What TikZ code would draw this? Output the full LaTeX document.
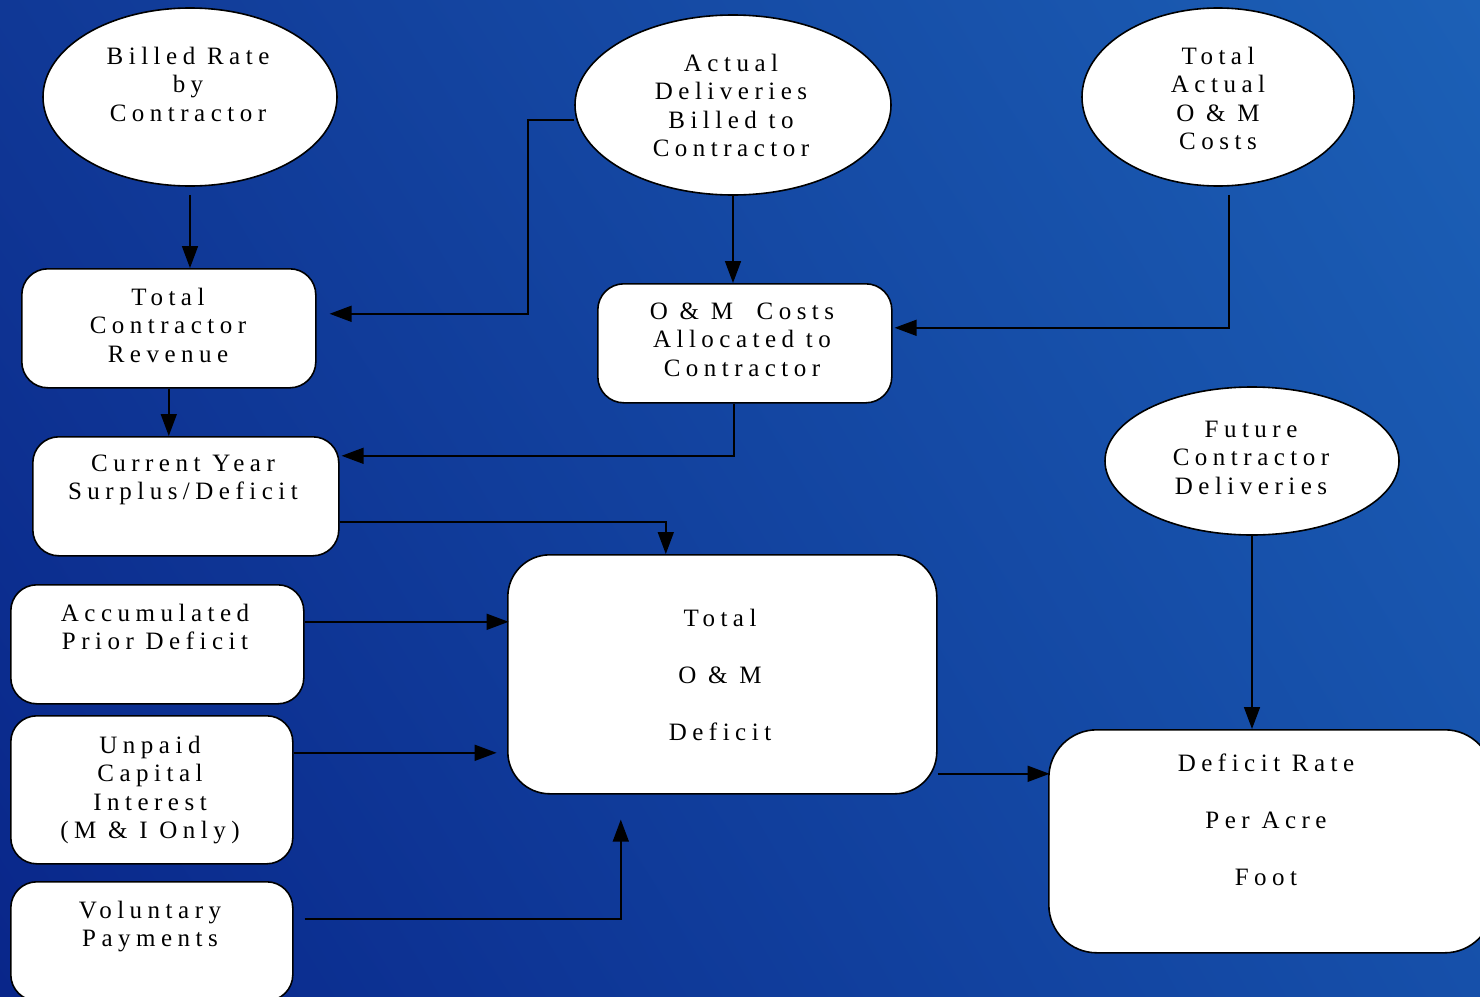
\documentclass[tikz,border=0pt]{standalone}
\usepackage{fontspec}
\setmainfont{Liberation Serif}[LetterSpace=22]
\usetikzlibrary{shapes.geometric,arrows.meta,shadings}

\definecolor{skytl}{RGB}{16,56,150}
\definecolor{skytr}{RGB}{28,96,182}
\definecolor{skybl}{RGB}{9,38,138}
\definecolor{skybr}{RGB}{22,80,170}

\tikzset{
  bubble/.style={ellipse, draw=black, fill=white, line width=1.6pt, inner sep=0pt},
  panel/.style={rectangle, draw=black, fill=white, line width=1.6pt, inner sep=0pt,
    anchor=north west, rounded corners=26pt},
  words/.style={anchor=north, align=center, inner sep=0pt,
    font=\fontsize{25}{28.5}\selectfont},
  flow/.style={line width=1.6pt, -{Triangle[length=22pt,width=16pt]}}
}

\begin{document}
\begin{tikzpicture}[x=1pt, y=-1pt]
\useasboundingbox (0,0) rectangle (1480,996);
\clip (0,0) rectangle (1480,996);
\shade[upper left=skytl, upper right=skytr, lower left=skybl, lower right=skybr]
  (0,0) rectangle (1480,996);

% inputs
\node[bubble, minimum width=294pt, minimum height=178pt] (rate) at (190,97) {};
\node[bubble, minimum width=316pt, minimum height=180pt] (billed) at (733,105) {};
\node[bubble, minimum width=272pt, minimum height=178pt] (costs) at (1218,97) {};
\node[bubble, minimum width=294pt, minimum height=148pt] (future) at (1252,461) {};

% boxes
\node[panel, minimum width=294pt, minimum height=119pt] (rev) at (21,268) {};
\node[panel, minimum width=294pt, minimum height=119pt] (om) at (597,283) {};
\node[panel, minimum width=306pt, minimum height=119pt] (surplus) at (32,436) {};
\node[panel, minimum width=293pt, minimum height=119pt] (prior) at (10,584) {};
\node[panel, minimum width=282pt, minimum height=148pt] (interest) at (10,715) {};
\node[panel, minimum width=282pt, minimum height=119pt] (vol) at (10,881) {};
\node[panel, rounded corners=42pt, minimum width=429pt, minimum height=239pt] (deficit) at (507,554) {};
\node[panel, rounded corners=48pt, minimum width=444pt, minimum height=223pt] (acre) at (1048,729) {};

% texts
\node[words] (rate-t) at (188,46.5) {Billed Rate\\by\\Contractor};
\node[words] (billed-t) at (731,53.5) {Actual\\Deliveries\\Billed to\\Contractor};
\node[words] (costs-t) at (1218,46.5) {Total\\Actual\\O \& M\\Costs};
\node[words] (future-t) at (1251,420.5) {Future\\Contractor\\Deliveries};
\node[words] (rev-t) at (168,287.5) {Total\\Contractor\\Revenue};
\node[words] (om-t) at (742,302.5) {O \& M\ \ Costs\\Allocated to\\Contractor};
\node[words] (surplus-t) at (183,454.5) {Current Year\\Surplus/Deficit};
\node[words] (prior-t) at (155,603.5) {Accumulated\\Prior Deficit};
\node[words] (interest-t) at (150,735.5) {Unpaid\\Capital\\Interest\\(M \& I Only)};
\node[words] (vol-t) at (150,900.5) {Voluntary\\Payments};
\node[words] (deficit-t) at (720,608.5) {Total\\[28.5pt]O \& M\\[28.5pt]Deficit};
\node[words] (acre-t) at (1266,753.5) {Deficit Rate\\[28.5pt]Per Acre\\[28.5pt]Foot};

% arrows
\draw[flow] ([yshift=-8pt]rate.south) -- (rate.south |- rev.north);
\draw[flow] ([yshift=-15pt]billed.west) -- ++(-46,0) |- ([xshift=13pt,yshift=14.5pt]rev.east);
\draw[flow] (billed.south) -- (billed.south |- om.north);
\draw[flow] ([xshift=11pt,yshift=-8pt]costs.south) |- ([xshift=2pt,yshift=15.5pt]om.east);
\draw[flow] (rev.south) -- (rev.south |- surplus.north);
\draw[flow] ([xshift=-11pt]om.south) |- ([xshift=2pt,yshift=40.5pt]surplus.east);
\draw[flow] ([yshift=-25.5pt]surplus.east) -| ([xshift=-56.5pt]deficit.north);
\draw[flow] ([yshift=22.5pt]prior.east) -- ++(204,0);
\draw[flow] ([yshift=37pt]interest.east) -- ++(203,0);
\draw[flow] ([xshift=11pt,yshift=22.5pt]vol.east) -| ([xshift=-101.5pt,yshift=-25pt]deficit.south);
\draw[flow] ([yshift=-99.5pt]deficit.east) -- ++(112,0);
\draw[flow] (future.south) -- (future.south |- acre.north);
\end{tikzpicture}
\end{document}
